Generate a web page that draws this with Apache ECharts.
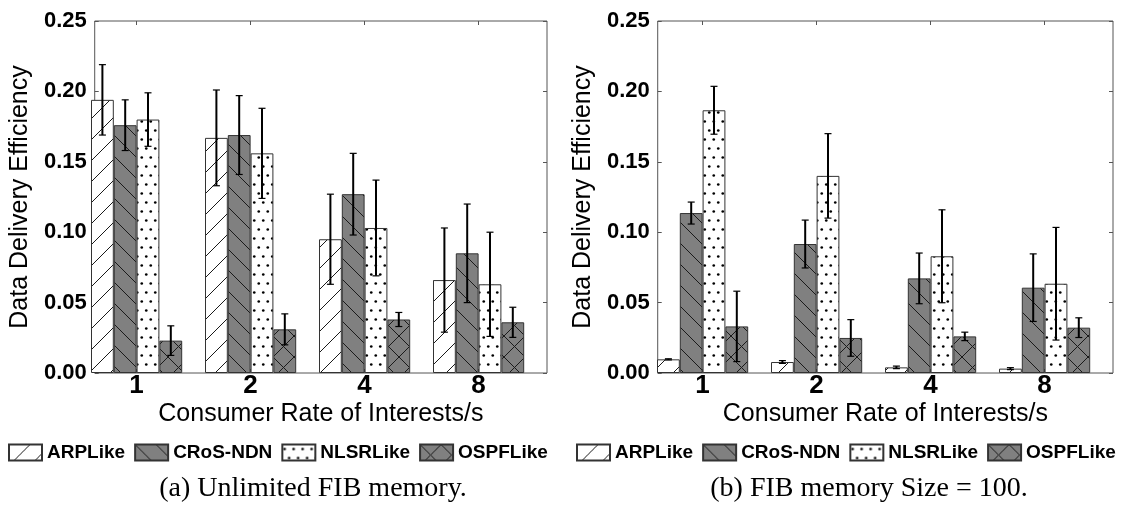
<!DOCTYPE html>
<html><head><meta charset="utf-8">
<script src="https://cdn.jsdelivr.net/npm/echarts@6/dist/echarts.min.js"></script>
<style>
html,body{margin:0;padding:0;background:#fff;}
#a,#b{position:absolute;top:0;width:563px;height:511px;}
#a{left:0;} #b{left:563px;}
</style></head><body>
<div id="a"></div><div id="b"></div>
<script>
// ---------- data ----------
const categories = ['1', '2', '4', '8'];
const seriesNames = ['ARPLike', 'CRoS-NDN', 'NLSRLike', 'OSPFLike'];
const yTicks = [0, 0.05, 0.10, 0.15, 0.20, 0.25];

// (a) Unlimited FIB memory
const arpA = [0.194, 0.167, 0.095, 0.066];
const arpAErr = [0.025, 0.034, 0.032, 0.037];
const crosA = [0.176, 0.169, 0.127, 0.085];
const crosAErr = [0.018, 0.028, 0.029, 0.035];
const nlsrA = [0.180, 0.156, 0.103, 0.063];
const nlsrAErr = [0.019, 0.032, 0.034, 0.037];
const ospfA = [0.023, 0.031, 0.038, 0.036];
const ospfAErr = [0.0105, 0.011, 0.005, 0.0107];

// (b) FIB memory Size = 100
const arpB = [0.0097, 0.0078, 0.0040, 0.0031];
const arpBErr = [0.0004, 0.001, 0.0009, 0.0007];
const crosB = [0.1136, 0.0916, 0.0672, 0.0606];
const crosBErr = [0.0078, 0.017, 0.018, 0.024];
const nlsrB = [0.1866, 0.140, 0.0829, 0.0634];
const nlsrBErr = [0.017, 0.030, 0.033, 0.040];
const ospfB = [0.0331, 0.0249, 0.026, 0.0322];
const ospfBErr = [0.025, 0.013, 0.003, 0.007];

const captionA = '(a) Unlimited FIB memory.';
const captionB = '(b) FIB memory Size = 100.';
const xName = 'Consumer Rate of Interests/s';
const yName = 'Data Delivery Efficiency';

// ---------- hatch patterns ----------
function tile(kind, bg) {
  const c = document.createElement('canvas');
  let w = 21, h = 21;
  if (kind === 'dot') { w = 9; h = 18; }
  c.width = w; c.height = h;
  const g = c.getContext('2d');
  g.fillStyle = bg; g.fillRect(0, 0, w, h);
  g.strokeStyle = '#1a1a1a'; g.lineWidth = 1;
  if (kind === 'slash' || kind === 'cross') {
    for (const k of [-w, 0, w]) { g.beginPath(); g.moveTo(k, h); g.lineTo(k + w, 0); g.stroke(); }
  }
  if (kind === 'back' || kind === 'cross') {
    for (const k of [-w, 0, w]) { g.beginPath(); g.moveTo(k, 0); g.lineTo(k + w, h); g.stroke(); }
  }
  if (kind === 'dot') {
    g.fillStyle = '#000';
    for (const p of [[2.25, 4.5], [6.75, 13.5]]) { g.beginPath(); g.arc(p[0], p[1], 1.35, 0, Math.PI * 2); g.fill(); }
  }
  return { image: c, repeat: 'repeat' };
}
const fills = [tile('slash', '#ffffff'), tile('back', '#808080'), tile('dot', '#ffffff'), tile('cross', '#808080')];

const SANS = 'Liberation Sans';

function build(el, vals, errs, cfg) {
  const chart = echarts.init(document.getElementById(el), null, { renderer: 'canvas' });
  const fl = cfg.frameLeft, top = 21, W = 456, H = 352;
  const bw = W / categories.length;
  const barLeft = fl - bw * 0.1;   // groups occupy the left 80% of each band
  const series = [];
  seriesNames.forEach((n, i) => {
    series.push({
      type: 'bar', name: n, xAxisIndex: 1, yAxisIndex: 2,
      data: vals[i], barGap: '0%', barCategoryGap: '20%',
      itemStyle: { color: fills[i], borderColor: '#333', borderWidth: 1 },
      emphasis: { disabled: true }, silent: true, z: 2
    });
  });
  seriesNames.forEach((n, i) => {
    series.push({
      type: 'custom', name: 'err-' + n, xAxisIndex: 1, yAxisIndex: 2, z: 5, silent: true,
      data: vals[i].map((v, k) => [k, v, errs[i][k]]),
      renderItem: (params, api) => {
        const k = api.value(0), v = api.value(1), e = api.value(2);
        const band = api.size([1, 0])[0];
        const w = band * 0.8 / 4;
        const c = api.coord([k, v]);
        const x = c[0] + (i - 1.5) * w;
        const y1 = api.coord([k, v + e])[1], y2 = api.coord([k, v - e])[1];
        return { type: 'group', children: [
          { type: 'line', shape: { x1: x, y1: y1, x2: x, y2: y2 }, style: { stroke: '#000', lineWidth: 2 } },
          { type: 'line', shape: { x1: x - 3.5, y1: y1, x2: x + 3.5, y2: y1 }, style: { stroke: '#000', lineWidth: 1.2 } },
          { type: 'line', shape: { x1: x - 3.5, y1: y2, x2: x + 3.5, y2: y2 }, style: { stroke: '#000', lineWidth: 1.2 } }
        ] };
      }
    });
  });
  const tickStyle = { show: true, inside: true, length: 4, lineStyle: { color: '#555', width: 1 } };
  chart.setOption({
    animation: false,
    backgroundColor: '#fff',
    title: {
      text: cfg.caption, left: cfg.captionX, top: 470, textAlign: 'center',
      textStyle: { fontFamily: 'Liberation Serif', fontWeight: 'normal', fontSize: 28, color: '#000' }
    },
    legend: {
      data: seriesNames, left: cfg.legendLeft, top: 443, padding: 0, width: 556,
      itemWidth: 33, itemHeight: 16, itemGap: 9, icon: 'rect', selectedMode: false,
      textStyle: { fontFamily: SANS, fontWeight: 'bold', fontSize: 19, color: '#000' }
    },
    grid: [
      { left: fl, top: top, width: W, height: H, show: true, borderColor: '#555', borderWidth: 1, backgroundColor: 'transparent' },
      { left: barLeft, top: top, width: W, height: H }
    ],
    xAxis: [
      { gridIndex: 0, type: 'value', min: 0, max: 1, axisLine: { show: false }, axisTick: { show: false },
        axisLabel: { show: false }, splitLine: { show: false },
        name: xName, nameLocation: 'middle', nameGap: 29,
        nameTextStyle: { fontFamily: SANS, fontSize: 25, color: '#000' } },
      { gridIndex: 1, type: 'category', data: categories, position: 'bottom',
        axisLine: { show: false }, axisTick: Object.assign({ alignWithLabel: true }, tickStyle),
        axisLabel: { margin: 0, fontFamily: SANS, fontWeight: 'bold', fontSize: 26, color: '#000' } },
      { gridIndex: 1, type: 'category', data: categories, position: 'top',
        axisLine: { show: false }, axisTick: Object.assign({ alignWithLabel: true }, tickStyle),
        axisLabel: { show: false } }
    ],
    yAxis: [
      { gridIndex: 0, type: 'value', min: yTicks[0], max: yTicks[yTicks.length - 1], interval: yTicks[1] - yTicks[0],
        position: 'left', axisLine: { show: false }, axisTick: tickStyle, splitLine: { show: false },
        axisLabel: { margin: 8, fontFamily: SANS, fontWeight: 'bold', fontSize: 22, color: '#000', formatter: v => v.toFixed(2) },
        name: yName, nameLocation: 'middle', nameGap: 58,
        nameTextStyle: { fontFamily: SANS, fontSize: 25, color: '#000' } },
      { gridIndex: 0, type: 'value', min: yTicks[0], max: yTicks[yTicks.length - 1], interval: yTicks[1] - yTicks[0],
        position: 'right', axisLine: { show: false }, axisTick: tickStyle, splitLine: { show: false }, axisLabel: { show: false } },
      { gridIndex: 1, type: 'value', min: yTicks[0], max: yTicks[yTicks.length - 1], show: false }
    ],
    series: series
  });
}

build('a', [arpA, crosA, nlsrA, ospfA], [arpAErr, crosAErr, nlsrAErr, ospfAErr],
  { frameLeft: 91, legendLeft: 8, caption: captionA, captionX: 308 });
build('b', [arpB, crosB, nlsrB, ospfB], [arpBErr, crosBErr, nlsrBErr, ospfBErr],
  { frameLeft: 94, legendLeft: 13, caption: captionB, captionX: 301 });
</script></body></html>
